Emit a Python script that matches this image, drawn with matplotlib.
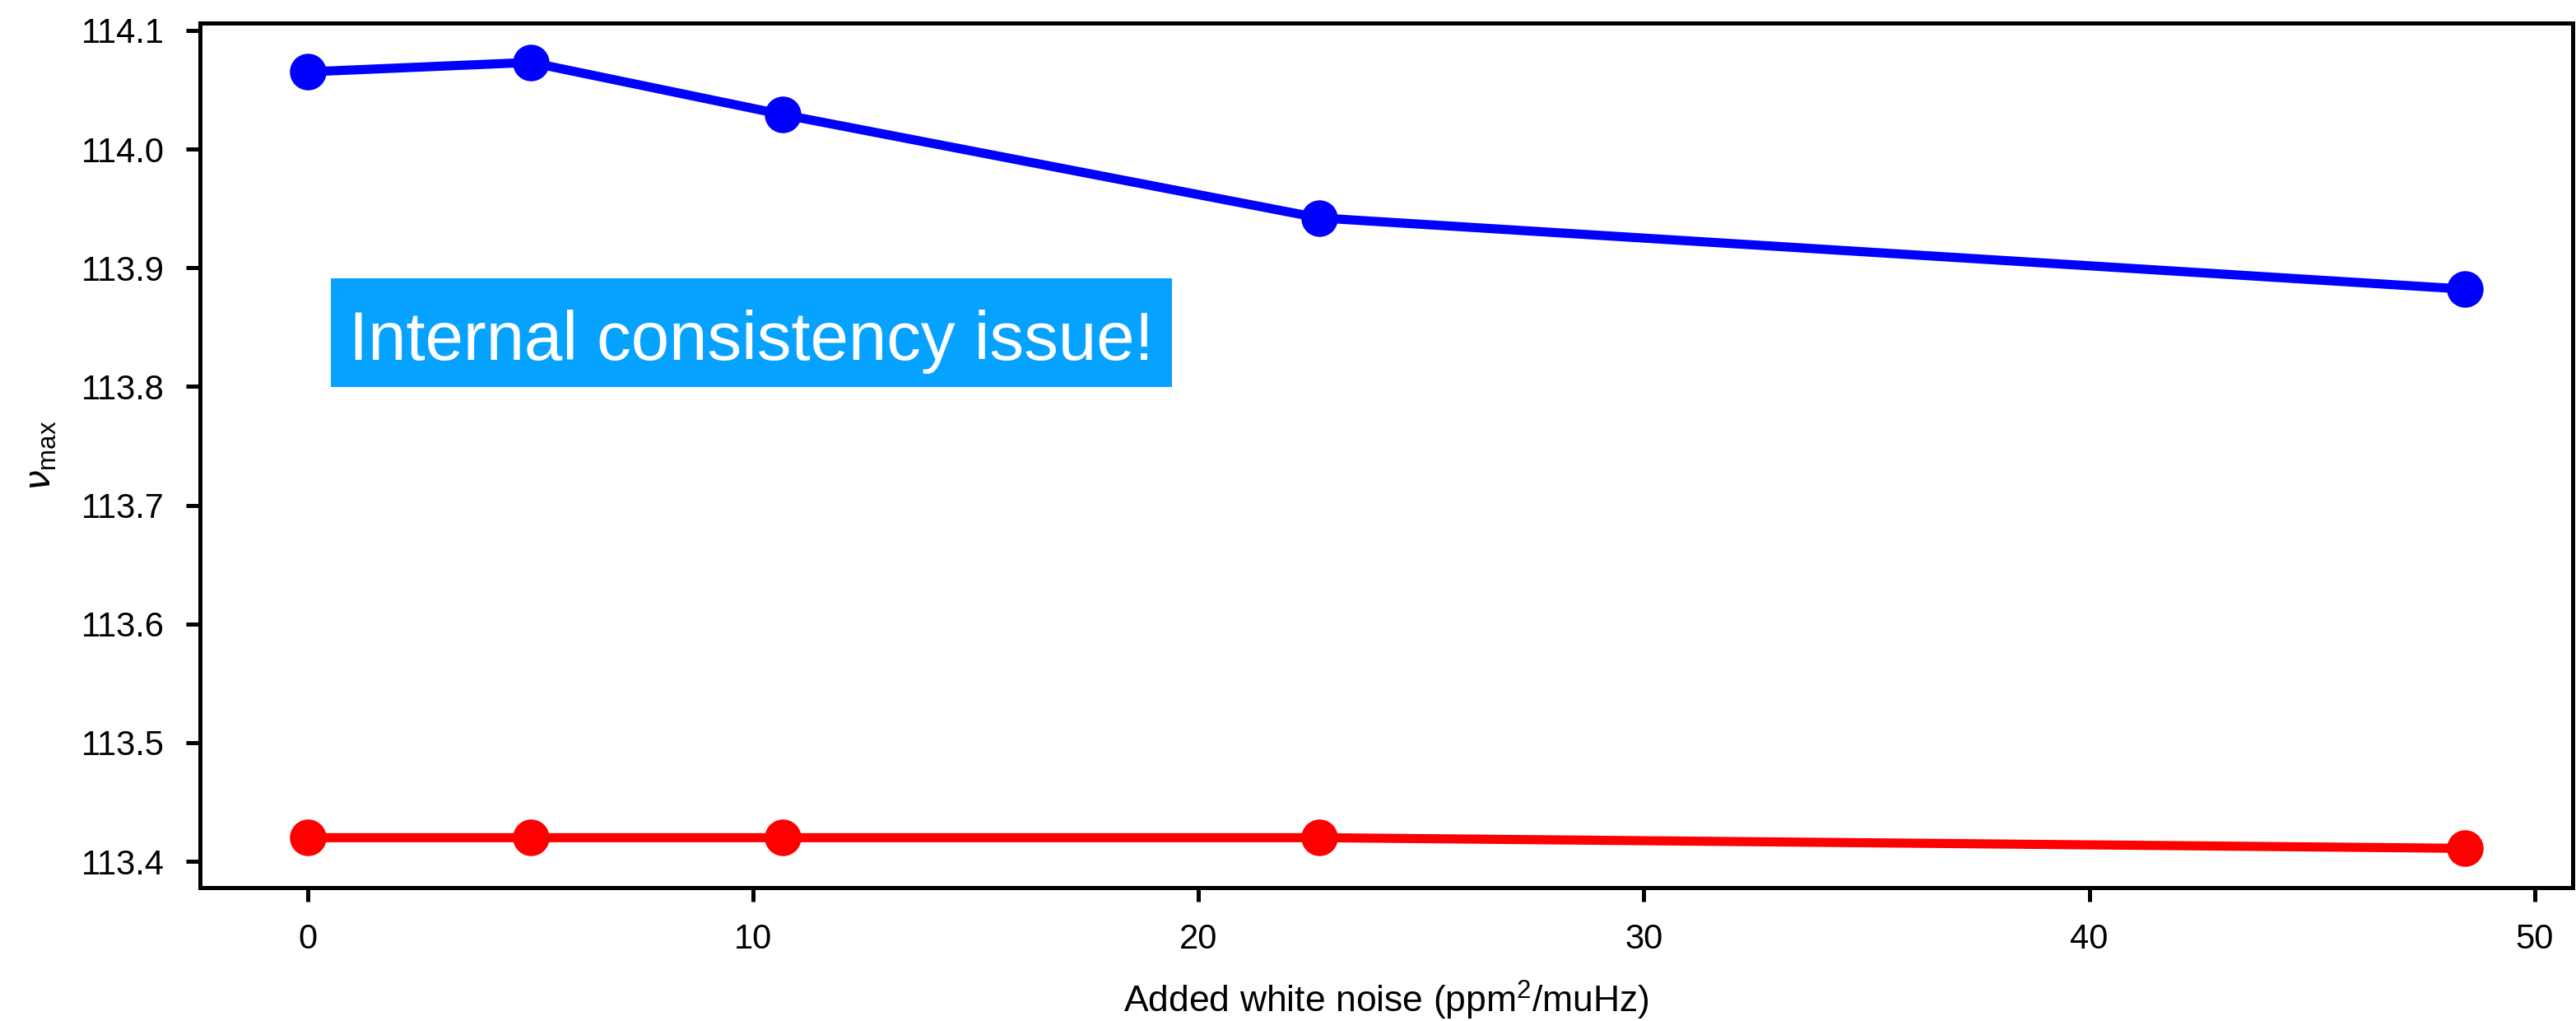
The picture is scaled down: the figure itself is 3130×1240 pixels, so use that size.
import matplotlib
matplotlib.use('Agg')
import matplotlib.pyplot as plt
from matplotlib.path import Path

# nu_max recovered at each added white-noise level
noise = [0, 5.0, 10.67, 22.71, 48.43]
numax_blue = [114.065, 114.073, 114.029, 113.942, 113.882]
numax_red = [113.420, 113.420, 113.420, 113.420, 113.411]

plt.rcParams['font.family'] = ['Liberation Sans', 'DejaVu Sans']
plt.rcParams['mathtext.fontset'] = 'custom'
plt.rcParams['mathtext.rm'] = 'Liberation Sans'
plt.rcParams['mathtext.it'] = 'DejaVu Sans:italic'
plt.rcParams['font.size'] = 15


def banner_box(x0, y0, width, height, mutation_size):
    # flat label box: narrow at the sides, more room above the text
    side = 0.265 * mutation_size
    top = 0.45 * mutation_size
    bottom = 0.2 * mutation_size
    x1, y1 = x0 + width + side, y0 + height + top
    x0, y0 = x0 - side, y0 - bottom
    return Path([(x0, y0), (x1, y0), (x1, y1), (x0, y1), (x0, y0)],
                closed=True)


def main():
    fig = plt.figure(figsize=(15.65, 6.2), dpi=200)
    ax = fig.add_axes([0.0776, 0.1306, 0.9211, 0.8468])

    ax.plot(noise, numax_blue, color='blue', marker='o', ms=15, lw=4)
    ax.plot(noise, numax_red, color='red', marker='o', ms=15, lw=4)

    ax.text(0.93, 113.8227, 'Internal consistency issue!', fontsize=30,
            color='white',
            bbox=dict(boxstyle=banner_box, facecolor='#05a2ff',
                      edgecolor='none'))

    ax.set_xlabel(r'Added white noise (ppm$^2$/muHz)', fontsize=16,
                  labelpad=10)
    ax.set_ylabel(r'$\nu_{\rm max}$', fontsize=16, labelpad=10)
    ax.set_yticks([113.4, 113.5, 113.6, 113.7, 113.8, 113.9, 114.0, 114.1])

    for side in ax.spines.values():
        side.set_linewidth(1.8)
    ax.tick_params(direction='out', length=6, width=1.8, pad=9.5)

    plt.savefig('out.png', dpi=200)


if __name__ == '__main__':
    main()
